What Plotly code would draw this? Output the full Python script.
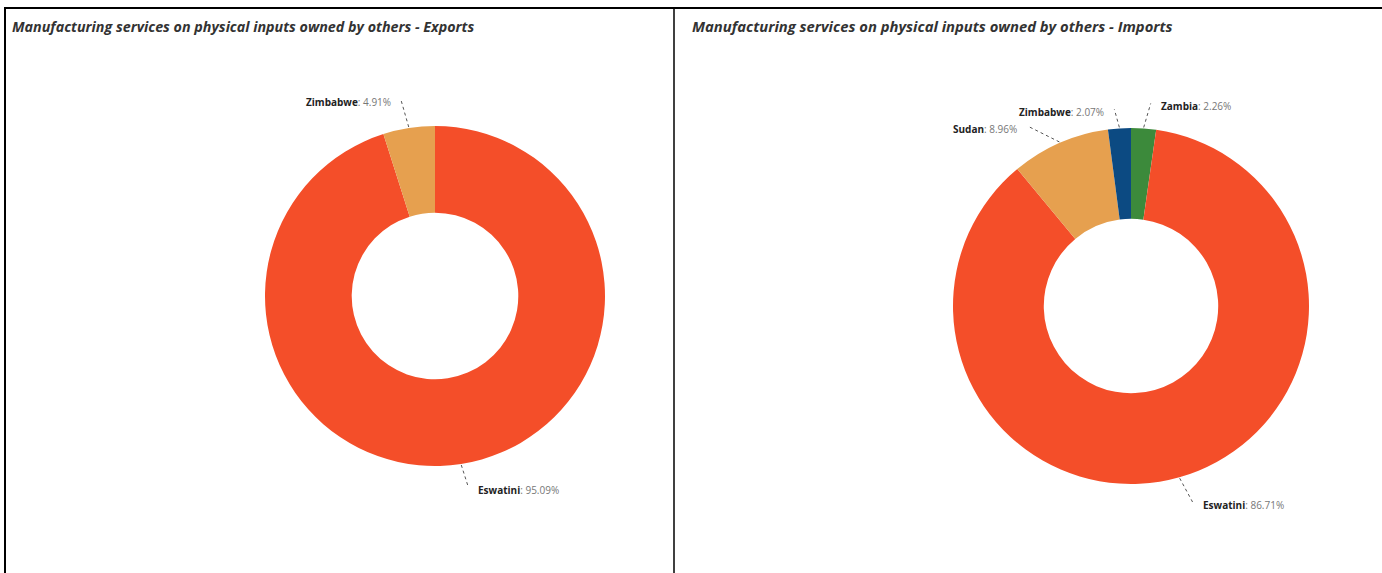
import math
import plotly.graph_objects as go

# Shares of manufacturing services on physical inputs owned by others (%)
export_countries = ["Eswatini", "Zimbabwe"]
export_shares = [95.09, 4.91]

import_countries = ["Zambia", "Eswatini", "Sudan", "Zimbabwe"]
import_shares = [2.26, 86.71, 8.96, 2.07]

export_colors = {
    "Eswatini": "#F44E29",
    "Zimbabwe": "#E6A04F",
}
import_colors = {
    "Zambia": "#3C8A3B",
    "Eswatini": "#F44E29",
    "Sudan": "#E6A04F",
    "Zimbabwe": "#0C4A82",
}

W, H = 1382, 573

# Donut placement in pixels: centre x, centre y, outer radius
export_geo = dict(cx=435, cy=296, r=170)
import_geo = dict(cx=1131, cy=306, r=178)

# Leader line end offsets (px from slice edge) and label side
export_leaders = {
    "Eswatini": (7, 22, "left"),
    "Zimbabwe": (-8, -28, "right"),
}
import_leaders = {
    "Zambia": (7, -24, "left"),
    "Eswatini": (13, 24, "left"),
    "Sudan": (-32, -16, "right"),
    "Zimbabwe": (-5, -18, "right"),
}


def px(x):
    return x / W


def py(y):
    return 1 - y / H


fig = go.Figure()
shapes = []
annotations = []


def add_donut(names, values, colors, geo, leaders):
    cx, cy, r = geo["cx"], geo["cy"], geo["r"]
    fig.add_trace(go.Pie(
        labels=names,
        values=values,
        hole=0.49,
        sort=False,
        direction="clockwise",
        rotation=0,
        marker=dict(colors=[colors[n] for n in names], line=dict(width=0)),
        textinfo="none",
        hoverinfo="label+percent",
        showlegend=False,
        domain=dict(x=[px(cx - r), px(cx + r)], y=[py(cy + r), py(cy - r)]),
    ))
    total = sum(values)
    cum = 0.0
    for name, v in zip(names, values):
        mid = (cum + v / 2) / total * 2 * math.pi
        cum += v
        ex = cx + (r + 1) * math.sin(mid)
        ey = cy - (r + 1) * math.cos(mid)
        dx, dy, side = leaders[name]
        lx, ly = ex + dx, ey + dy
        shapes.append(dict(
            type="line", xref="paper", yref="paper",
            x0=px(ex), y0=py(ey), x1=px(lx), y1=py(ly),
            line=dict(color="#555555", width=1, dash="dot"),
        ))
        pct = v / total * 100
        if side == "left":
            tx, anchor = lx + 8, "left"
        else:
            tx, anchor = lx - 8, "right"
        annotations.append(dict(
            xref="paper", yref="paper", x=px(tx), y=py(ly + 3),
            xanchor=anchor, yanchor="middle", showarrow=False,
            text=f"<b>{name}</b><span style='color:#777777'>: {pct:.2f}%</span>",
            font=dict(family="Open Sans", size=10, color="#222222"),
        ))


add_donut(export_countries, export_shares, export_colors, export_geo, export_leaders)
add_donut(import_countries, import_shares, import_colors, import_geo, import_leaders)

# Panel titles
for title, x0, size in [
    ("Manufacturing services on physical inputs owned by others - Exports", 10, 14.3),
    ("Manufacturing services on physical inputs owned by others - Imports", 690, 14.8),
]:
    annotations.append(dict(
        xref="paper", yref="paper", x=px(x0), y=py(26),
        xanchor="left", yanchor="middle", showarrow=False,
        text=f"<b><i>{title}</i></b>",
        font=dict(family="Open Sans", size=size, color="#333333"),
    ))

# Panel frame lines
frame = dict(color="black", width=2)
shapes += [
    dict(type="line", xref="paper", yref="paper", x0=px(4), x1=1, y0=py(8), y1=py(8), line=frame),
    dict(type="line", xref="paper", yref="paper", x0=px(5), x1=px(5), y0=py(8), y1=0, line=frame),
    dict(type="line", xref="paper", yref="paper", x0=px(674), x1=px(674), y0=py(8), y1=0, line=dict(color="black", width=1.5)),
]

fig.update_layout(
    width=W, height=H,
    margin=dict(l=0, r=0, t=0, b=0),
    paper_bgcolor="white",
    plot_bgcolor="white",
    shapes=shapes,
    annotations=annotations,
)

fig.write_html("out.html")
